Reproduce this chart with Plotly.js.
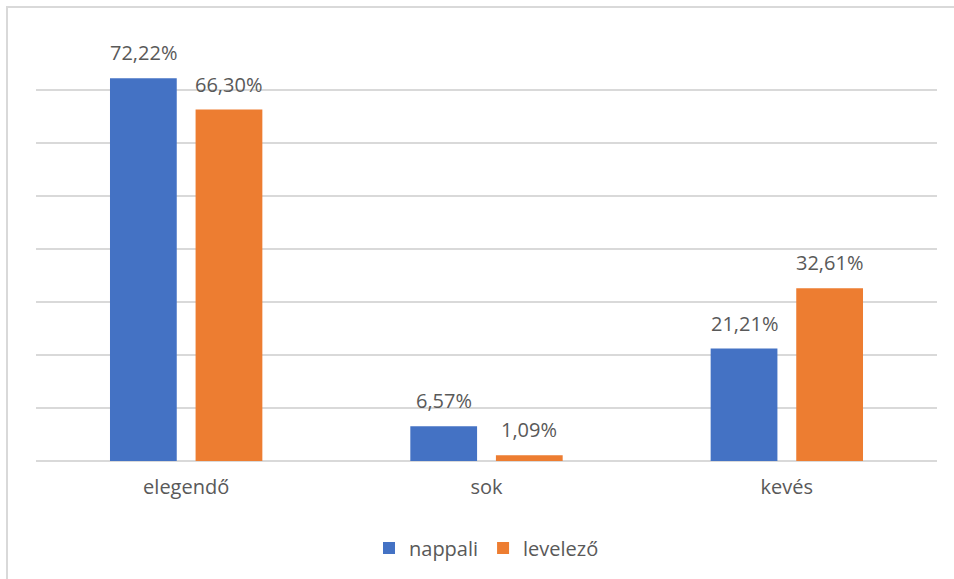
<!DOCTYPE html>
<html>
<head>
<meta charset="utf-8">
<script src="https://cdn.plot.ly/plotly-3.0.1.min.js"></script>
<style>
  html, body { margin: 0; padding: 0; background: #fff; }
  #frame { position: absolute; left: 6px; top: 6px; width: 960px; height: 600px; border-left: 2px solid #D9D9D9; border-top: 2px solid #D9D9D9; box-sizing: border-box; pointer-events: none; }
  #chart { position: absolute; left: 0; top: 0; width: 954px; height: 579px; }
</style>
</head>
<body>
<div id="chart"></div>
<div id="frame"></div>
<script>
const categories = ['elegendő', 'sok', 'kevés'];
const seriesNames = ['nappali', 'levelező'];
const nappali = [72.22, 6.57, 21.21];
const levelezo = [66.30, 1.09, 32.61];
const colors = ['#4472C4', '#ED7D31'];

const fmt = v => v.toFixed(2).replace('.', ',') + '%';
const FONT = '"Open Sans", sans-serif';
const TXT = '#595959';

const seriesData = [nappali, levelezo];
const traces = seriesData.map((vals, i) => ({
  type: 'bar',
  name: seriesNames[i],
  x: categories,
  y: vals,
  marker: { color: colors[i] },
  hoverinfo: 'skip'
}));

const annotations = [];
seriesData.forEach((vals, i) => {
  vals.forEach((v, j) => {
    annotations.push({
      x: categories[j], y: v, xref: 'x', yref: 'y',
      text: fmt(v), showarrow: false,
      xshift: i === 0 ? -42.8 : 42.8, yshift: 10, yanchor: 'bottom',
      font: { family: FONT, size: 20, color: TXT }
    });
  });
});

const layout = {
  width: 954, height: 579,
  margin: { l: 36, r: 17, t: 37, b: 118 },
  paper_bgcolor: '#fff', plot_bgcolor: '#fff',
  barmode: 'group', bargap: 0.43, bargroupgap: 0.22,
  font: { family: FONT, size: 20, color: TXT },
  xaxis: {
    type: 'category', showgrid: false, showline: false, zeroline: false,
    ticks: '', ticklabelstandoff: 12,
    tickfont: { family: FONT, size: 20, color: TXT }
  },
  yaxis: {
    range: [0, 80], dtick: 10, showticklabels: false,
    showgrid: true, gridcolor: '#D9D9D9', gridwidth: 1.3,
    zeroline: true, zerolinecolor: '#D9D9D9', zerolinewidth: 1.3,
    fixedrange: true
  },
  showlegend: true,
  legend: {
    orientation: 'h', x: 0.5, xanchor: 'center', y: -0.205, yanchor: 'middle',
    font: { family: FONT, size: 20, color: TXT }, itemwidth: 30, traceorder: 'normal'
  },
  annotations: annotations
};

Plotly.newPlot('chart', traces, layout, { displayModeBar: false, staticPlot: true });
</script>
</body>
</html>
